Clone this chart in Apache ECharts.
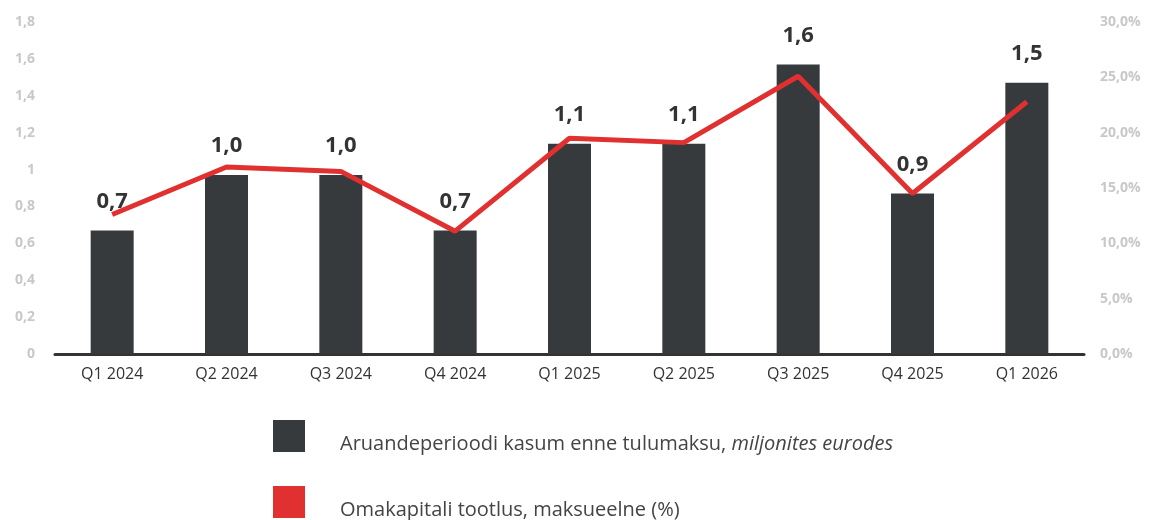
<!DOCTYPE html>
<html>
<head>
<meta charset="utf-8">
<script src="https://cdn.jsdelivr.net/npm/echarts@6/dist/echarts.min.js"></script>
<style>
  html, body { margin: 0; padding: 0; background: #fff; }
  #main { width: 1153px; height: 520px; }
</style>
</head>
<body>
<div id="main"></div>
<script>
// kvartalid
var quarters = ['Q1 2024', 'Q2 2024', 'Q3 2024', 'Q4 2024', 'Q1 2025', 'Q2 2025', 'Q3 2025', 'Q4 2025', 'Q1 2026'];
// kasum enne tulumaksu, mln eurot
var profit = [0.67, 0.97, 0.97, 0.67, 1.14, 1.14, 1.57, 0.87, 1.47];
// omakapitali tootlus, %
var roe = [12.6, 16.9, 16.5, 11.1, 19.5, 19.1, 25.1, 14.5, 22.8];

var seriesNames = ['Aruandeperioodi kasum enne tulumaksu', 'Omakapitali tootlus, maksueelne (%)'];

var chart = echarts.init(document.getElementById('main'));

function comma(v, d) {
  return v.toFixed(d).replace('.', ',');
}

var option = {
  animation: false,
  textStyle: { fontFamily: '"Open Sans", sans-serif' },
  color: ['#363a3d', '#e03030'],
  grid: { left: 55, right: 69, top: 22, bottom: 166 },
  legend: {
    orient: 'vertical',
    left: 273,
    top: 420,
    padding: 0,
    itemWidth: 32,
    itemHeight: 32,
    itemGap: 32,
    icon: 'rect',
    data: seriesNames,
    formatter: function (name) {
      if (name === seriesNames[0]) return name + ', {i|miljonites eurodes}';
      return name;
    },
    textStyle: {
      fontSize: 20,
      color: '#444',
      padding: [16, 0, 0, 30],
      rich: {
        i: { fontSize: 20, fontStyle: 'italic', color: '#444' }
      }
    }
  },
  xAxis: {
    type: 'category',
    data: quarters,
    axisLine: { lineStyle: { color: '#333', width: 3 } },
    axisTick: { alignWithLabel: true, length: 6, lineStyle: { color: '#333', width: 3 } },
    axisLabel: { color: '#333', fontSize: 16, margin: 12 }
  },
  yAxis: [{
    type: 'value',
    min: 0,
    max: 1.8,
    interval: 0.2,
    splitLine: { show: false },
    axisLine: { show: false },
    axisTick: { show: false },
    axisLabel: {
      color: '#c8c8c8', fontSize: 14, fontWeight: 'bold', margin: 20,
      formatter: function (v) { return String(Math.round(v * 10) / 10).replace('.', ','); }
    }
  }, {
    type: 'value',
    min: 0,
    max: 30,
    interval: 5,
    splitLine: { show: false },
    axisLine: { show: false },
    axisTick: { show: false },
    axisLabel: {
      color: '#c8c8c8', fontSize: 14, fontWeight: 'bold', margin: 16,
      formatter: function (v) { return comma(v, 1) + '%'; }
    }
  }],
  series: [{
    name: seriesNames[0],
    type: 'bar',
    data: profit,
    barWidth: 43,
    label: {
      show: true,
      position: 'top',
      distance: 18,
      color: '#333',
      fontSize: 22,
      fontWeight: 'bold',
      formatter: function (p) { return comma(p.value, 1); }
    }
  }, {
    name: seriesNames[1],
    type: 'line',
    yAxisIndex: 1,
    data: roe,
    symbol: 'none',
    lineStyle: { width: 5, color: '#e03030' },
    z: 3
  }]
};

chart.setOption(option);
</script>
</body>
</html>
